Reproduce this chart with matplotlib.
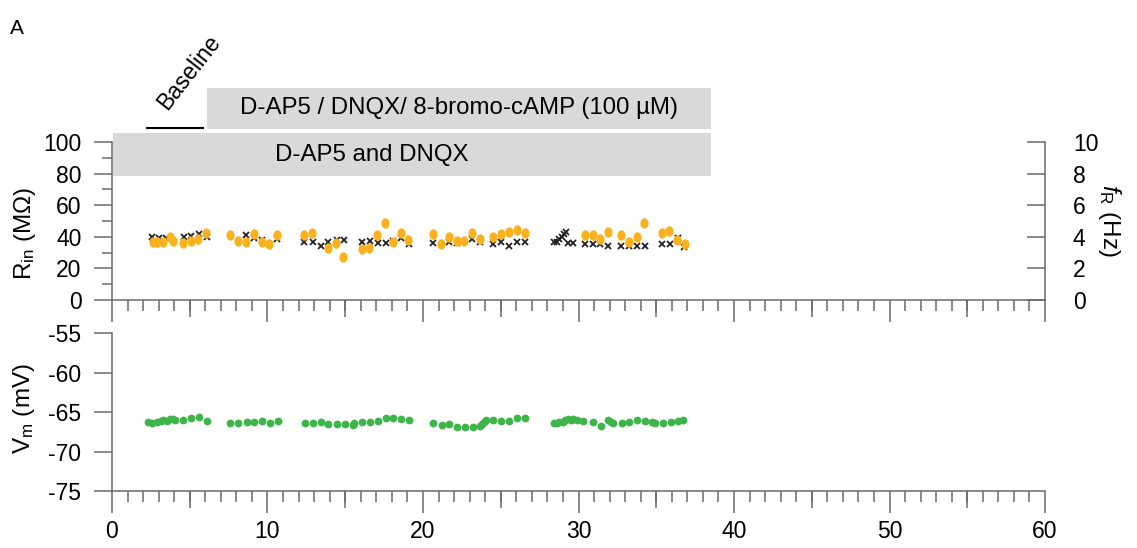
import numpy as np
import matplotlib
matplotlib.use('Agg')
import matplotlib.pyplot as plt
from matplotlib.patches import Rectangle
from matplotlib.ticker import MultipleLocator, FixedLocator, NullFormatter

plt.rcParams['font.family'] = ['Liberation Sans', 'DejaVu Sans']
plt.rcParams['mathtext.fontset'] = 'custom'
plt.rcParams['mathtext.rm'] = 'Liberation Sans'
plt.rcParams['mathtext.it'] = 'Liberation Sans:italic'
plt.rcParams['axes.unicode_minus'] = False

# input resistance (MOhm), left axis of the top panel
rin_t = [2.62, 2.91, 3.30, 3.73, 3.94, 4.54, 5.06, 5.55, 6.05,
         7.59, 8.12, 8.62, 9.13, 9.63, 10.12, 10.63,
         12.35, 12.88, 13.91, 14.41, 14.87,
         16.06, 16.55, 17.06, 17.56, 18.09, 18.59, 19.05,
         20.62, 21.14, 21.67, 22.17, 22.66, 23.17, 23.67, 24.52, 25.02, 25.53, 26.03, 26.56,
         30.42, 30.91, 31.38, 31.92, 32.73, 33.25, 33.74, 34.23,
         35.35, 35.84, 36.35, 36.85]
rin = [36.5, 36.5, 36.5, 39.7, 37.5, 36.3, 37.5, 38.6, 42.2,
       41.1, 37.5, 36.9, 41.8, 36.9, 35.4, 41.1,
       41.1, 42.6, 32.7, 36.3, 27.4,
       32.1, 33.1, 41.1, 48.9, 36.9, 42.2, 38.0,
       41.8, 35.4, 39.7, 37.5, 37.5, 42.6, 38.4, 39.7, 41.8, 43.2, 44.3, 42.2,
       41.1, 41.1, 38.4, 43.2, 41.1, 36.9, 39.7, 48.5,
       42.6, 43.9, 38.0, 35.4]

# firing rate (Hz), right axis of the top panel
fr_t = [2.55, 3.04, 3.50, 4.60, 5.08, 5.60, 6.10,
        8.62, 9.13, 9.63, 10.63,
        12.37, 12.90, 13.42, 13.91, 14.45, 14.92,
        16.10, 16.60, 17.10, 17.60, 18.10, 18.57, 19.10,
        20.62, 21.67, 22.17, 23.17, 23.67, 24.52, 25.02, 25.53, 26.03, 26.56,
        28.42, 28.60, 28.77, 28.92, 29.07, 29.20, 29.34, 29.63,
        30.42, 30.91, 31.38, 31.92, 32.73, 33.25, 33.74, 34.28,
        35.40, 35.90, 36.40, 36.80]
fr = [3.97, 3.90, 3.90, 4.00, 4.05, 4.16, 4.00,
      4.11, 3.90, 3.80, 3.84,
      3.65, 3.69, 3.44, 3.65, 3.80, 3.80,
      3.65, 3.75, 3.59, 3.59, 3.75, 3.90, 3.54,
      3.59, 3.65, 3.59, 3.84, 3.69, 3.54, 3.65, 3.44, 3.65, 3.65,
      3.69, 3.65, 3.84, 4.00, 4.18, 4.32, 3.59, 3.59,
      3.54, 3.54, 3.54, 3.42, 3.42, 3.42, 3.42, 3.42,
      3.54, 3.54, 3.90, 3.37]

# membrane potential (mV), bottom panel
vm_t = [2.33, 2.55, 2.87, 3.13, 3.30, 3.52, 3.73, 3.90, 4.05, 4.59, 5.08, 5.59, 6.09,
        7.59, 8.12, 8.66, 9.15, 9.67, 10.16, 10.66,
        12.41, 12.91, 13.42, 13.91, 14.45, 14.98, 15.48, 15.58, 16.10, 16.59, 17.09, 17.60, 18.09, 18.59, 19.10,
        20.66, 21.20, 21.69, 22.20, 22.70, 23.20, 23.67, 23.77, 23.92, 24.05, 24.52, 25.02, 25.53, 26.06, 26.56,
        28.42, 28.60, 28.77, 28.98, 29.13, 29.35, 29.50, 29.67, 29.89, 30.31, 30.91, 31.43, 31.92, 32.10,
        32.24, 32.78, 33.27, 33.78, 34.28, 34.71, 34.92, 35.42, 35.93, 36.42, 36.74]
vm = [-66.23, -66.35, -66.23, -66.10, -66.00, -66.10, -65.92, -65.92, -66.00, -66.00, -65.72, -65.67, -66.10,
      -66.35, -66.35, -66.30, -66.23, -66.14, -66.43, -66.10,
      -66.43, -66.43, -66.30, -66.52, -66.56, -66.52, -66.65, -66.43, -66.30, -66.23, -66.10, -65.80, -65.80, -65.92, -66.00,
      -66.43, -66.65, -66.52, -66.94, -66.86, -66.86, -66.77, -66.52, -66.23, -66.00, -66.00, -66.10, -66.10, -65.80, -65.72,
      -66.43, -66.35, -66.30, -66.23, -66.00, -65.92, -66.00, -65.92, -66.00, -66.10, -66.23, -66.73, -66.00, -66.23,
      -66.35, -66.43, -66.30, -66.00, -66.10, -66.30, -66.35, -66.35, -66.23, -66.10, -66.00]

xticks = [0, 10, 20, 30, 40, 50, 60]

orange = '#f9b21d'
green = '#3db54a'
axcol = '#6a6a6a'
gray = '#d9d9d9'
fs = 16.5
lfs = 17.5

th = np.linspace(0, 2 * np.pi, 40)
ellipse = list(zip(0.78 * np.cos(th), np.sin(th)))

fig = plt.figure(figsize=(11.37, 5.48), dpi=100)
ax1 = fig.add_axes([0.0985, 0.4526, 0.8206, 0.2883])
ax3 = fig.add_axes([0.0985, 0.104, 0.8206, 0.2883])


def style_x(ax, labels):
    ax.set_xlim(0, 60)
    ax.xaxis.set_major_locator(FixedLocator(xticks))
    ax.xaxis.set_minor_locator(FixedLocator([i for i in range(61) if i % 10]))
    ax.tick_params(axis='x', which='major', direction='out', length=15.8, width=1.1,
                   color=axcol, labelsize=fs, pad=5, labelbottom=labels)
    ax.tick_params(axis='x', which='minor', direction='out', length=7.9, width=1.1, color=axcol)
    # medium ticks at the fives
    sec = ax.secondary_xaxis('bottom')
    sec.set_xticks([5, 15, 25, 35, 45, 55])
    sec.xaxis.set_major_formatter(NullFormatter())
    sec.tick_params(axis='x', direction='out', length=12.2, width=1.1, color=axcol)
    sec.spines['bottom'].set_visible(False)
    for s in ['top', 'right']:
        ax.spines[s].set_visible(False)
    for s in ['left', 'bottom']:
        ax.spines[s].set_color(axcol)
        ax.spines[s].set_linewidth(1.1)


# top panel
style_x(ax1, False)
ax1.set_ylim(0, 100)
ax1.yaxis.set_major_locator(MultipleLocator(20))
ax1.yaxis.set_minor_locator(MultipleLocator(10))
ax1.tick_params(axis='y', which='major', length=13, width=1.1, color=axcol, labelsize=fs, pad=9)
ax1.tick_params(axis='y', which='minor', length=7.2, width=1.1, color=axcol)
ax1.set_ylabel(r'R$_{\rm in}$ (MΩ)', fontsize=lfs)
ax1.yaxis.set_label_coords(-0.079, 0.42)

ax2 = ax1.twinx()
ax2.set_ylim(0, 10)
ax2.set_xlim(0, 60)
ax2.yaxis.set_major_locator(MultipleLocator(2))
ax2.tick_params(axis='y', direction='in', length=13, width=1.1, color=axcol, labelsize=fs, pad=20)
for s in ['top', 'left', 'bottom']:
    ax2.spines[s].set_visible(False)
ax2.spines['right'].set_color(axcol)
ax2.spines['right'].set_linewidth(1.1)
ax2.set_ylabel(r'$\it{f}$$_{\rm R}$ (Hz)', fontsize=lfs, rotation=270)
ax2.yaxis.set_label_coords(1.084, 0.506)
ax2.plot(fr_t, fr, ls='none', marker='x', ms=4.2, mew=1.3, color='#222222')

ax1.set_zorder(ax2.get_zorder() + 1)
ax1.patch.set_visible(False)
ax1.plot(rin_t, rin, ls='none', marker=ellipse, ms=7.5, mec='none', color=orange)

# drug application bars
ax1.add_patch(Rectangle((0.08, 78.5), 38.44, 27.2, facecolor=gray, edgecolor='none',
                        clip_on=False, zorder=0))
ax1.add_patch(Rectangle((6.1, 108.0), 32.42, 26.4, facecolor=gray, edgecolor='none',
                        clip_on=False, zorder=0))
ax1.text(16.7, 91.5, 'D-AP5 and DNQX', fontsize=17.3, ha='center', va='center')
ax1.text(22.3, 121.5, 'D-AP5 / DNQX/ 8-bromo-cAMP (100 µM)', fontsize=17.3,
         ha='center', va='center')
ax1.plot([2.25, 5.85], [108.9, 108.9], color='black', lw=1.5, clip_on=False)
ax1.text(3.55, 119.8, 'Baseline', fontsize=16.5, rotation=52, rotation_mode='anchor',
         ha='left', va='baseline')

# bottom panel
style_x(ax3, True)
ax3.set_ylim(-75, -55)
ax3.yaxis.set_major_locator(MultipleLocator(5))
ax3.tick_params(axis='y', which='major', length=13, width=1.1, color=axcol, labelsize=fs, pad=9)
ax3.set_ylabel(r'V$_{\rm m}$ (mV)', fontsize=lfs)
ax3.yaxis.set_label_coords(-0.080, 0.525)
ax3.plot(vm_t, vm, ls='none', marker='o', ms=5.6, mec='none', color=green)

fig.text(0.009, 0.965, 'A', fontsize=15, va='top', ha='left')

fig.savefig('out.png', dpi=100)
